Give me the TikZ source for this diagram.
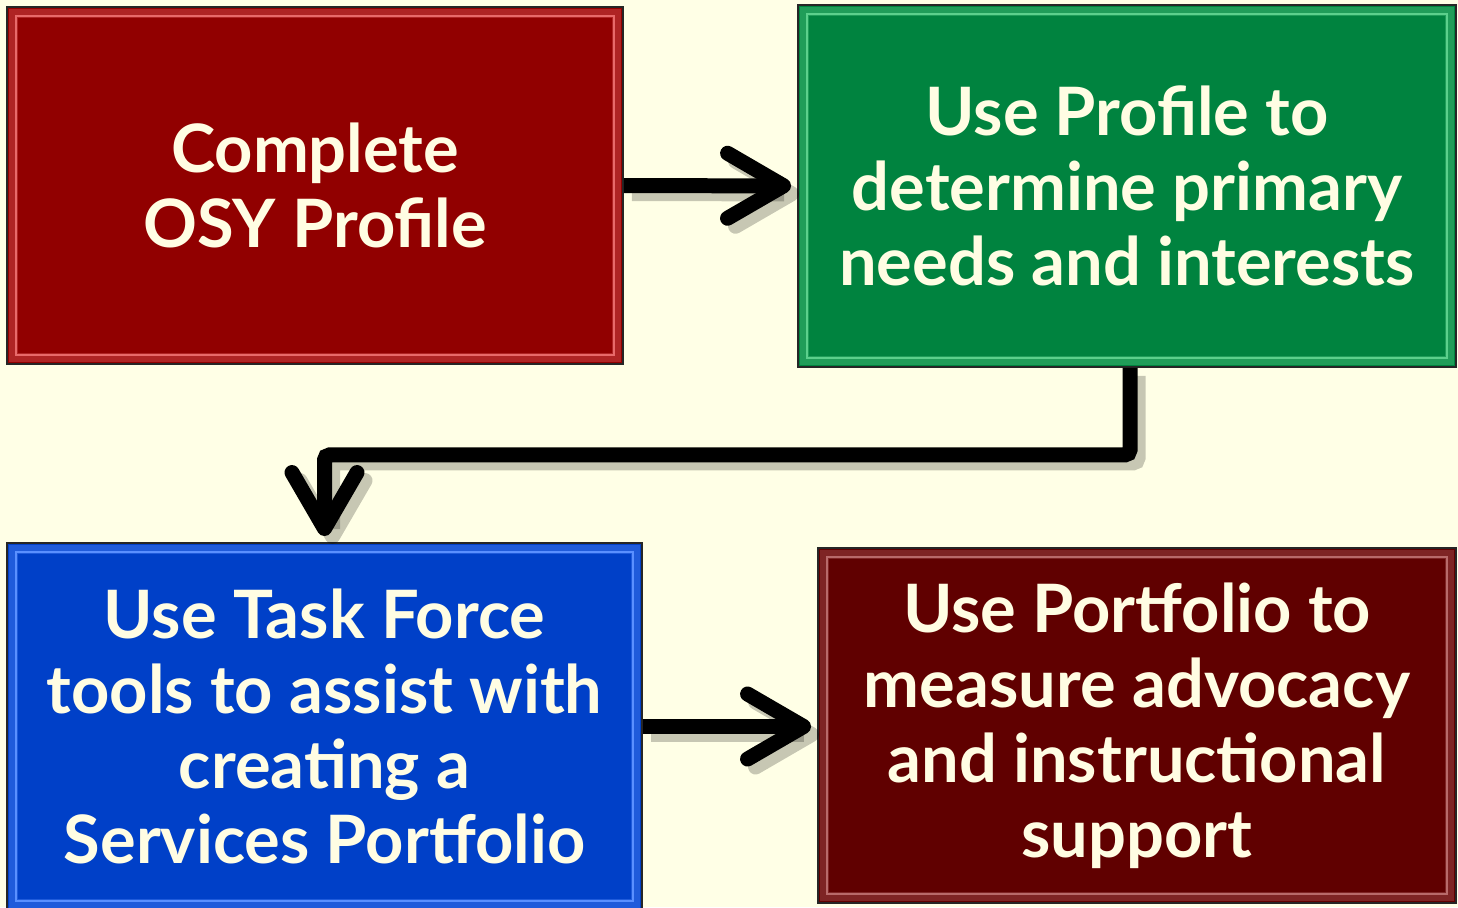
\documentclass[tikz,border=0pt]{standalone}
\usepackage{fontspec}
\setmainfont{Lato}
\usetikzlibrary{arrows.meta,calc}
\definecolor{bg}{HTML}{FFFFE6}
\definecolor{txt}{HTML}{FFFDE3}
\definecolor{cred}{HTML}{910000}
\definecolor{cgreen}{HTML}{00833F}
\definecolor{cblue}{HTML}{0040C8}
\definecolor{cdark}{HTML}{600000}
\definecolor{lred}{HTML}{E86A6A}
\definecolor{lgreen}{HTML}{5CD08C}
\definecolor{lblue}{HTML}{5A90FF}
\definecolor{ldark}{HTML}{B86A6A}
\begin{document}
\begin{tikzpicture}[x=0.02cm,y=-0.02cm,
  box/.style={draw=black!85, line width=0.04cm, text=txt, align=center, inner sep=0pt,
    font=\fontsize{38}{42.7}\selectfont\bfseries},
  bev/.style={path picture={
    \draw[line width=0.18cm, #1, opacity=0.35]
      ([shift={(6,6)}]path picture bounding box.north west) rectangle
      ([shift={(-6,-6)}]path picture bounding box.south east);
    \draw[line width=0.05cm, #1]
      ([shift={(9,9)}]path picture bounding box.north west) rectangle
      ([shift={(-9,-9)}]path picture bounding box.south east);
  }},
  conn/.style={line width=0.3cm, rounded corners=0.1cm,
    -{Straight Barb[length=1.12cm, width=1.3cm, round]}, shorten >=0.12cm},
  shad/.style={conn, draw=black, opacity=0.22, transform canvas={shift={(0.16cm,-0.16cm)}}}
]
\useasboundingbox[fill=bg] (0,0) rectangle (1458,907);

\node[box, fill=cred, bev=lred, minimum width=12.32cm, minimum height=7.14cm] (r) at (315,185.5)
  {Complete\\OSY Profile};
\node[box, fill=cgreen, bev=lgreen, minimum width=13.16cm, minimum height=7.24cm] (g) at (1127,186)
  {Use Profile to\\determine primary\\needs and interests};
\node[box, fill=cblue, bev=lblue, minimum width=12.7cm, minimum height=7.34cm] (b) at (324.5,726.5)
  {Use Task Force\\tools to assist with\\creating a\\Services Portfolio};
\node[box, fill=cdark, bev=ldark, minimum width=12.76cm, minimum height=7.1cm] (d) at (1137,725.5)
  {Use Portfolio to\\measure advocacy\\and instructional\\support};

\draw[shad] (r) -- (g);
\draw[shad] ([xshift=0.06cm]g.south) -- ++(0,87) -| (b.north);
\draw[shad] (b.east) -- (b.east -| d.west);

\draw[conn] (r) -- (g);
\draw[conn] ([xshift=0.06cm]g.south) -- ++(0,87) -| (b.north);
\draw[conn] (b.east) -- (b.east -| d.west);
\end{tikzpicture}
\end{document}
